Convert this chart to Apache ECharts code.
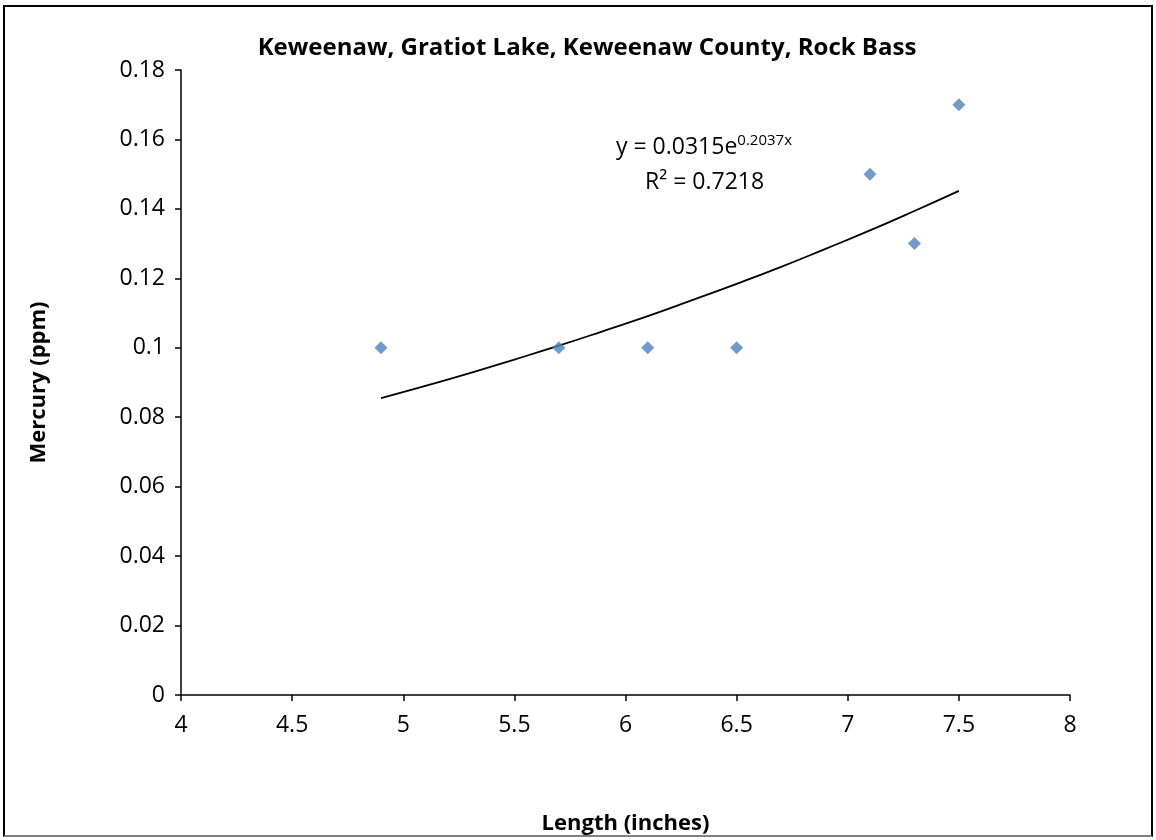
<!DOCTYPE html>
<html>
<head>
<meta charset="utf-8">
<script src="https://cdn.jsdelivr.net/npm/echarts@6/dist/echarts.min.js"></script>
<style>
html,body{margin:0;padding:0;background:#fff;}
#frame{position:absolute;left:3px;top:5px;width:1150px;height:832px;border:2px solid #000;border-bottom-color:#808080;box-sizing:border-box;}
#chart{position:absolute;left:0;top:0;width:1156px;height:840px;}
</style>
</head>
<body>
<div id="frame"></div>
<div id="chart"></div>
<script>
const title = 'Keweenaw, Gratiot Lake, Keweenaw County, Rock Bass';
const xName = 'Length (inches)';
const yName = 'Mercury (ppm)';
const lengths = [4.9, 5.7, 6.1, 6.5, 7.1, 7.3, 7.5];
const mercury = [0.1, 0.1, 0.1, 0.1, 0.15, 0.13, 0.17];
// exponential trendline, values
const trendX = [4.9, 5.1, 5.3, 5.5, 5.7, 5.9, 6.1, 6.3, 6.5, 6.7, 6.9, 7.1, 7.3, 7.5];
const trendY = [0.0855, 0.0890, 0.0927, 0.0966, 0.1006, 0.1048, 0.1091, 0.1137, 0.1184, 0.1233, 0.1285, 0.1338, 0.1394, 0.1452];
const equationText = ['y = 0.0315e', '0.2037x'];
const r2Text = 'R² = 0.7218';

const font = '"Open Sans", Lato, sans-serif';
const chart = echarts.init(document.getElementById('chart'));
chart.setOption({
  animation: false,
  backgroundColor: 'transparent',
  title: { text: title, left: 582, top: 31, textAlign: 'center',
    textStyle: { fontFamily: font, fontSize: 24, fontWeight: 'bold', color: '#000' } },
  grid: { left: 181, right: 86, top: 70, bottom: 144, containLabel: false },
  xAxis: {
    type: 'value', min: 4, max: 8, interval: 0.5,
    name: xName, nameLocation: 'middle', nameGap: 118,
    nameTextStyle: { fontFamily: font, fontSize: 22, fontWeight: 'bold', color: '#000' },
    axisLine: { show: true, onZero: false, lineStyle: { color: '#000', width: 1.5 } },
    axisTick: { show: true, length: 6, lineStyle: { color: '#000', width: 1.5 } },
    axisLabel: { fontFamily: font, fontSize: 23, color: '#000', margin: 19 },
    splitLine: { show: false }
  },
  yAxis: {
    type: 'value', min: 0, max: 0.18, interval: 0.02,
    name: yName, nameLocation: 'middle', nameGap: 131, nameRotate: 90,
    nameTextStyle: { fontFamily: font, fontSize: 22, fontWeight: 'bold', color: '#000' },
    axisLine: { show: true, lineStyle: { color: '#000', width: 1.5 } },
    axisTick: { show: true, length: 6, lineStyle: { color: '#000', width: 1.5 } },
    axisLabel: { fontFamily: font, fontSize: 23, color: '#000', margin: 16,
      formatter: v => String(parseFloat(v.toFixed(2))) },
    splitLine: { show: false }
  },
  series: [
    { type: 'line', data: trendX.map((x, i) => [x, trendY[i]]), showSymbol: false, smooth: true,
      lineStyle: { color: '#000', width: 1.8 }, z: 1 },
    { type: 'scatter', data: lengths.map((x, i) => [x, mercury[i]]),
      symbol: 'diamond', symbolSize: 13,
      itemStyle: { color: '#4F81BD' }, z: 2 }
  ],
  graphic: [
    { type: 'text', left: 616, top: 133,
      style: { text: '{m|' + equationText[0] + '}{s|' + equationText[1] + '}',
        rich: { m: { fontFamily: font, fontSize: 23, fill: '#000', verticalAlign: 'bottom' },
                s: { fontFamily: font, fontSize: 15, fill: '#000', verticalAlign: 'top', padding: [0,0,11,0] } } } },
    { type: 'text', left: 645, top: 171,
      style: { text: r2Text, font: '23px ' + font, fill: '#000' } }
  ]
});
</script>
</body>
</html>
